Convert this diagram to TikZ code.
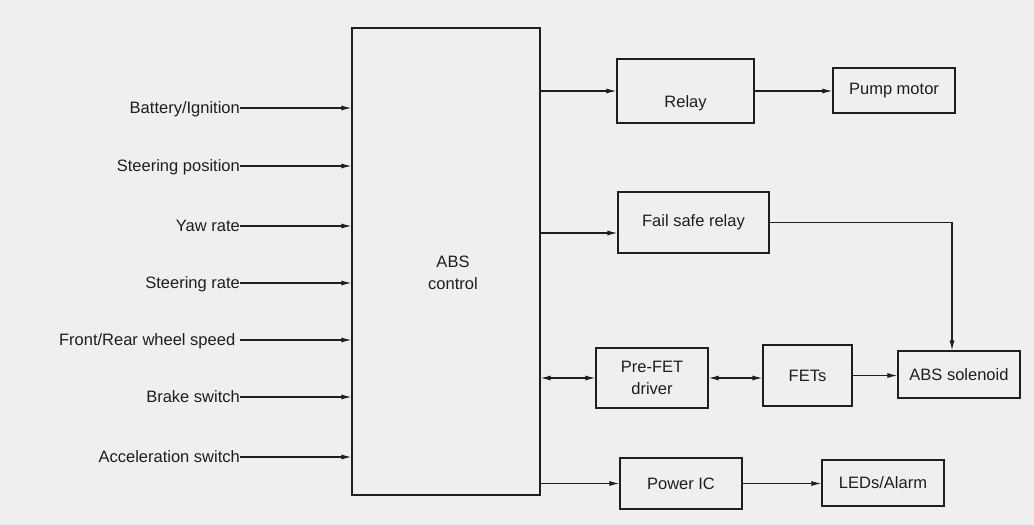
\documentclass[tikz,border=0pt]{standalone}
\usepackage{fontspec}
\setmainfont{Liberation Sans}
\usetikzlibrary{arrows.meta,calc,positioning}
\definecolor{paper}{RGB}{239,239,239}
\definecolor{ink}{RGB}{30,30,30}

\begin{document}
\begin{tikzpicture}[x=1pt, y=-1pt,
    every node/.style={font=\fontsize{16.5}{22}\selectfont, text=ink, inner sep=0pt, align=center},
    blk/.style={draw=ink, line width=1.2pt},
    arr/.style={-{Latex[length=10pt,width=5pt]}, draw=ink, line width=1.1pt},
    darr/.style={{Latex[length=10pt,width=5pt]}-{Latex[length=10pt,width=5pt]}, draw=ink, line width=1.1pt}]
  \useasboundingbox (0,0) rectangle (1034,525);
  \fill[paper] (0,0) rectangle (1034,525);
  % controller
  \node[blk, minimum width=188pt, minimum height=467pt] (abs) at (446,261.5) {};
  \node (abslab) at (453,273) {ABS\\control};
  % output blocks
  \node[blk, minimum width=137pt, text height=48pt, text depth=16pt, anchor=base] (relay) at (685.5,107) {Relay};
  \foreach \n/\x/\y/\w/\h/\t in {pump/894/90.5/122/45/{Pump motor},fsr/693.5/222.5/151/61/{Fail safe relay},pre/652/378/112/60/{Pre-FET\\driver},fets/807.5/375.5/89/61/{FETs},sol/959/374.5/122/47/{ABS solenoid},pwr/681/483.5/122/51/{Power IC},leds/883/483/122/46/{LEDs/Alarm}}{
    \node[blk, minimum width=\w pt, minimum height=\h pt] (\n) at (\x,\y) {\t};
  }
  % inputs
  \foreach \n/\y/\t in {bat/108/{Battery/Ignition},spos/166/{Steering position},yaw/226/{Yaw rate},srate/283/{Steering rate},whl/340/{Front/Rear wheel speed~},brk/397/{Brake switch},acc/457/{Acceleration switch}}{
    \node[anchor=east, text height=11.8pt, text depth=0pt] (\n) at (240,\y) {\t};
    \draw[arr] (\n.east) -- (\n.east -| abs.west);
  }
  % outputs
  \coordinate (fsin) at ([yshift=-10.5pt]fsr.west);
  \draw[arr] (relay.west -| abs.east) -- (relay.west);
  \draw[arr] (relay.east) -- (relay.east -| pump.west);
  \draw[arr] (fsin -| abs.east) -- (fsin);
  \draw[arr] (fsr.east) -| ([xshift=-7pt]sol.north);
  \draw[darr] (pre.west -| abs.east) -- (pre.west);
  \draw[darr] (pre.east) -- (pre.east -| fets.west);
  \draw[arr] (fets.east) -- (fets.east -| sol.west);
  \draw[arr] (pwr.west -| abs.east) -- (pwr.west);
  \draw[arr] (pwr.east) -- (pwr.east -| leds.west);
\end{tikzpicture}
\end{document}
